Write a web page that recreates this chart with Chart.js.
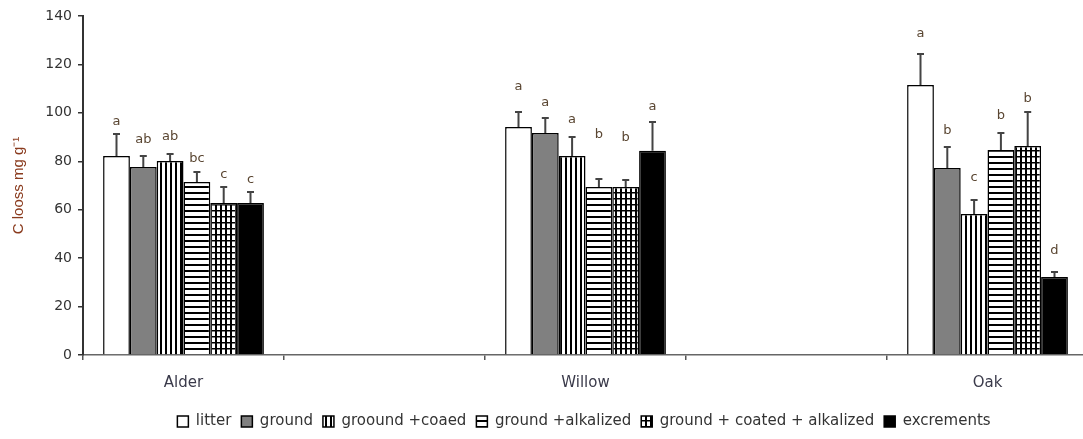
<!DOCTYPE html>
<html>
<head>
<meta charset="utf-8">
<script src="https://cdn.jsdelivr.net/npm/chart.js@4"></script>
<style>
  body { margin: 0; background: #fff; overflow: hidden; }
  #wrap { width: 1088px; height: 439px; }
</style>
</head>
<body>
<div id="wrap"><canvas id="chart"></canvas></div>
<script>
// categories and series names
const categories = ['Alder', 'Willow', 'Oak'];
const seriesNames = ['litter', 'ground', 'groound +coaed', 'ground +alkalized', 'ground + coated + alkalized', 'excrements'];

// C loss (mg g-1) per series, Alder / Willow / Oak
const litter     = [82.2, 94.2, 111.5];
const ground     = [77.6, 91.7, 77.2];
const coated     = [80.1, 82.2, 58.2];
const alkalized  = [71.4, 69.4, 84.7];
const coatedAlk  = [62.8, 69.4, 86.3];
const excrements = [62.8, 84.3, 32.2];

// error bar sizes
const litterErr     = [9.1, 6.2, 12.8];
const groundErr     = [4.6, 6.2, 8.7];
const coatedErr     = [2.9, 7.8, 5.8];
const alkalizedErr  = [4.2, 3.3, 7.0];
const coatedAlkErr  = [6.6, 2.9, 14.1];
const excrementsErr = [4.5, 11.9, 2.1];

// significance letters and the value they sit at
const litterLetters     = ['a', 'a', 'a'];
const groundLetters     = ['ab', 'a', 'b'];
const coatedLetters     = ['ab', 'a', 'c'];
const alkalizedLetters  = ['bc', 'b', 'b'];
const coatedAlkLetters  = ['c', 'b', 'b'];
const excrementsLetters = ['c', 'a', 'd'];

const litterLetterAt     = [96.2, 110.7, 132.6];
const groundLetterAt     = [88.8, 104.1, 92.5];
const coatedLetterAt     = [90.0, 97.1, 73.1];
const alkalizedLetterAt  = [80.9, 90.9, 98.7];
const coatedAlkLetterAt  = [74.3, 89.6, 105.7];
const excrementsLetterAt = [72.3, 102.5, 43.0];

const yTicks = [0, 20, 40, 60, 80, 100, 120, 140];

// the axis has an empty slot between the groups
function spread(vals) {
  return [vals[0], null, vals[1], null, vals[2]];
}
const axisLabels = spread(categories).map(v => v || '');

function makePattern(w, h, draw) {
  const c = document.createElement('canvas');
  c.width = w;
  c.height = h;
  const g = c.getContext('2d');
  g.fillStyle = '#fff';
  g.fillRect(0, 0, w, h);
  g.fillStyle = '#000';
  draw(g);
  return document.getElementById('chart').getContext('2d').createPattern(c, 'repeat');
}

const vertical = makePattern(5, 5, g => g.fillRect(0, 0, 2, 5));
const horizontal = makePattern(6, 6, g => g.fillRect(0, 0, 6, 2));
const grid = makePattern(5, 6, g => {
  g.fillRect(0, 0, 2, 6);
  g.fillRect(0, 0, 5, 1.5);
});

const fills = ['#ffffff', '#808080', vertical, horizontal, grid, '#000000'];
const values = [litter, ground, coated, alkalized, coatedAlk, excrements];
const errors = [litterErr, groundErr, coatedErr, alkalizedErr, coatedAlkErr, excrementsErr];
const letters = [litterLetters, groundLetters, coatedLetters, alkalizedLetters, coatedAlkLetters, excrementsLetters];
const letterAt = [litterLetterAt, groundLetterAt, coatedLetterAt, alkalizedLetterAt, coatedAlkLetterAt, excrementsLetterAt];

const datasets = seriesNames.map((name, i) => ({
  label: name,
  data: spread(values[i]),
  errors: spread(errors[i]),
  letters: spread(letters[i]),
  letterAt: spread(letterAt[i]),
  backgroundColor: fills[i],
  borderColor: '#000',
  borderWidth: 1.5,
  categoryPercentage: 0.8,
  barPercentage: 1.0
}));

const errorBars = {
  id: 'errorBars',
  afterDatasetsDraw(chart) {
    const ctx = chart.ctx;
    const y = chart.scales.y;
    ctx.save();
    chart.data.datasets.forEach((ds, i) => {
      const meta = chart.getDatasetMeta(i);
      meta.data.forEach((bar, j) => {
        const v = ds.data[j];
        if (v == null) return;
        const top = y.getPixelForValue(v + ds.errors[j]);
        ctx.strokeStyle = '#444';
        ctx.lineWidth = 2;
        ctx.beginPath();
        ctx.moveTo(bar.x, bar.y);
        ctx.lineTo(bar.x, top);
        ctx.moveTo(bar.x - 3.5, top);
        ctx.lineTo(bar.x + 3.5, top);
        ctx.stroke();

        ctx.fillStyle = '#5a4632';
        ctx.font = '13px "DejaVu Sans"';
        ctx.textAlign = 'center';
        ctx.textBaseline = 'middle';
        ctx.fillText(ds.letters[j], bar.x, y.getPixelForValue(ds.letterAt[j]));
      });
    });
    ctx.restore();
  }
};

// the legend in the picture sits a little right of centre
const legendShift = {
  id: 'legendShift',
  afterLayout(chart) {
    chart.legend.left += 40;
    chart.legend.right += 40;
  }
};

new Chart(document.getElementById('chart'), {
  type: 'bar',
  data: { labels: axisLabels, datasets },
  plugins: [errorBars, legendShift],
  options: {
    responsive: true,
    maintainAspectRatio: false,
    animation: false,
    layout: { padding: { left: 0, top: 16, right: 0, bottom: 0 } },
    scales: {
      x: {
        afterFit: s => { s.height = 49; },
        grid: { drawOnChartArea: false, tickLength: 5, tickColor: '#555', lineWidth: 1.5 },
        border: { color: '#666', width: 1.5 },
        ticks: {
          autoSkip: false,
          maxRotation: 0,
          padding: 14,
          color: '#3a3a4a',
          font: { family: '"DejaVu Sans"', size: 15 }
        }
      },
      y: {
        min: 0,
        max: 140,
        afterFit: s => { s.width = 83; },
        afterBuildTicks: s => { s.ticks = yTicks.map(v => ({ value: v })); },
        grid: { drawOnChartArea: false, tickLength: 5, tickColor: '#333', lineWidth: 1.5 },
        border: { color: '#333', width: 2 },
        ticks: {
          padding: 6,
          color: '#333',
          font: { family: '"DejaVu Sans"', size: 14 }
        },
        title: {
          display: true,
          text: 'C looss mg g\u207B\u00B9',
          color: '#8a3b1e',
          padding: { top: 10, bottom: 0 },
          font: { family: '"Liberation Sans"', size: 15 }
        }
      }
    },
    plugins: {
      tooltip: { enabled: false },
      legend: {
        position: 'bottom',
        labels: {
          boxWidth: 11,
          boxHeight: 11,
          padding: 10,
          color: '#333',
          font: { family: '"DejaVu Sans"', size: 15 }
        }
      }
    }
  }
});
</script>
</body>
</html>
